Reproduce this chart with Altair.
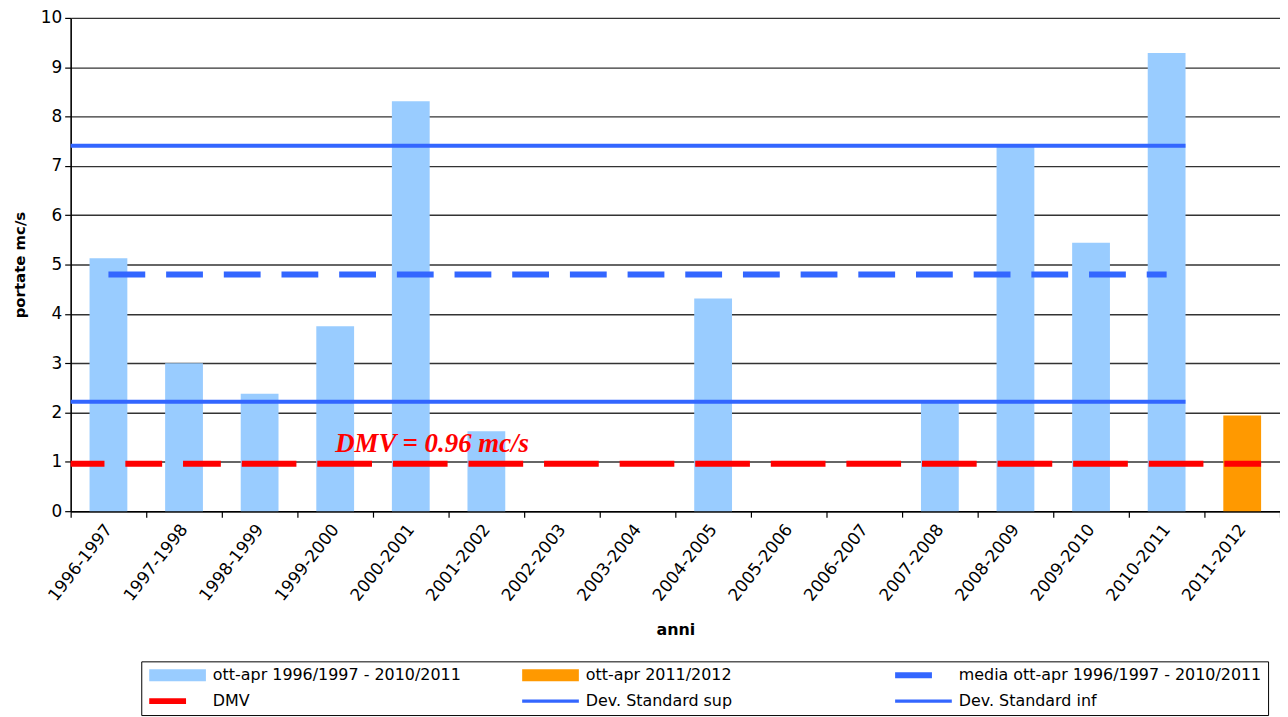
import altair as alt
import pandas as pd

# ---------------- data ----------------
anni = ["1996-1997", "1997-1998", "1998-1999", "1999-2000", "2000-2001", "2001-2002",
        "2002-2003", "2003-2004", "2004-2005", "2005-2006", "2006-2007", "2007-2008",
        "2008-2009", "2009-2010", "2010-2011", "2011-2012"]
portate = [5.13, 3.0, 2.38, 3.75, 8.31, 1.62, 0, 0, 4.31, 0, 0, 2.25, 7.4, 5.44, 9.29, 1.94]
gruppo = ["storico"] * 15 + ["corrente"]

# reference lines: value and extent (in category units along the x axis)
linee_nome = ["media", "sup", "inf", "DMV"]
linee_valore = [4.80, 7.41, 2.22, 0.96]
linee_inizio = [0.5, 0.0, 0.0, 0.0]
linee_fine = [14.5, 14.75, 14.75, 15.75]

legenda_voci = ["ott-apr 1996/1997 - 2010/2011", "ott-apr 2011/2012",
                "media ott-apr 1996/1997 - 2010/2011", "DMV",
                "Dev. Standard sup", "Dev. Standard inf"]
legenda_colori = ["#99CCFF", "#FF9900", "#3366FF", "#FF0000", "#3366FF", "#3366FF"]

testo_dmv = ["DMV = 0.96 mc/s"]
testo_x = [3.5]
testo_y = [1.19]

# ---------------- styling ----------------
W, H = 1216, 496
N = len(anni)
FONT = "DejaVu Sans"
BLUE = "#3366FF"
RED = "#FF0000"

bars_df = pd.DataFrame({"anno": anni, "portata": portate, "gruppo": gruppo})
lines_df = pd.DataFrame({"nome": linee_nome, "v": linee_valore,
                         "x0": linee_inizio, "x1": linee_fine})
text_df = pd.DataFrame({"t": testo_dmv, "tx": testo_x, "ty": testo_y})
leg_df = pd.DataFrame({"voce": legenda_voci})

xq = alt.Scale(domain=[0, N], nice=False, zero=False)


def ycanale(campo):
    return alt.Y(
        campo,
        scale=alt.Scale(domain=[0, 10], nice=False, zero=True),
        axis=alt.Axis(
            values=list(range(0, 11)), title="portate mc/s", titleFont=FONT, titleFontSize=15,
            titleFontWeight="bold", titleColor="black", titleX=-51, titleBaseline="middle",
            labelFont=FONT, labelFontSize=17, labelColor="black", labelPadding=3,
            tickColor="black", tickSize=6, tickWidth=1.2, domainColor="black", domainWidth=1.6,
            grid=True, gridColor="#333333", gridWidth=1.4,
        ),
    )


xaxis = alt.Axis(
    title="anni", titleFont=FONT, titleFontSize=16, titleFontWeight="bold",
    titleColor="black", titleY=119, titleBaseline="middle",
    labelAngle=308, labelAlign="right", labelBaseline="middle", labelPadding=9,
    labelFont=FONT, labelFontSize=17, labelColor="black",
    tickBand="extent", tickColor="black", tickSize=6, tickWidth=1.2,
    domainColor="black", domainWidth=1.6, grid=False,
)

bars = alt.Chart(bars_df).mark_bar(width=alt.RelativeBandSize(0.5)).encode(
    x=alt.X("anno:N", sort=anni,
            scale=alt.Scale(paddingInner=0, paddingOuter=0), axis=xaxis),
    y=ycanale("portata:Q"),
    color=alt.condition("datum.gruppo == 'corrente'", alt.value("#FF9900"), alt.value("#99CCFF")),
)


def linea(nome, colore, spessore, dash=None):
    kw = dict(color=colore, strokeWidth=spessore, strokeCap="butt")
    if dash is not None:
        kw["strokeDash"] = dash
    return alt.Chart(lines_df).transform_filter(alt.datum.nome == nome).mark_rule(**kw).encode(
        x=alt.X("x0:Q", scale=xq, axis=None),
        x2="x1:Q",
        y=ycanale("v:Q"),
    )


dmv_dash = [34, 21, 37, 21, 38, 21] + [55, 21] * 14
l_sup = linea("sup", BLUE, 4)
l_inf = linea("inf", BLUE, 4)
l_media = linea("media", BLUE, 6, [37, 21])
l_dmv = linea("DMV", RED, 6, dmv_dash)

testo = alt.Chart(text_df).mark_text(
    font="Liberation Serif", fontSize=27, fontWeight="bold", fontStyle="italic",
    color=RED, align="left", baseline="alphabetic",
).encode(
    x=alt.X("tx:Q", scale=xq, axis=None),
    y=ycanale("ty:Q"),
    text="t:N",
)

forme = [
    "M-1,-1H8.5V1H-1Z",
    "M-1,-1H8.5V1H-1Z",
    "M-1,-0.5H5.17V0.5H-1Z",
    "M-1,-0.5H5.17V0.5H-1Z",
    "M-1,-0.28H8.5V0.28H-1Z",
    "M-1,-0.28H8.5V0.28H-1Z",
]

leg = alt.Legend(
    title=None, orient="none", legendX=71, legendY=647, columns=3, gridAlign="all",
    direction="horizontal",
    symbolSize=144, symbolStrokeWidth=0, symbolOpacity=1, labelOffset=50,
    labelFont=FONT, labelFontSize=16, labelColor="black", labelLimit=0,
    strokeColor="black", padding=6, rowPadding=10, columnPadding=4,
)

legenda = alt.Chart(leg_df).transform_filter("false").mark_point(filled=True).encode(
    color=alt.Color("voce:N", scale=alt.Scale(domain=legenda_voci, range=legenda_colori), legend=leg),
    shape=alt.Shape("voce:N", scale=alt.Scale(domain=legenda_voci, range=forme), legend=leg),
)

chart = alt.layer(bars, l_inf, l_sup, l_media, l_dmv, testo, legenda).resolve_scale(
    x="independent"
).properties(
    width=W, height=H,
    autosize=alt.AutoSizeParams(type="none"),
    padding={"left": 63, "top": 8, "right": 0, "bottom": 205},
).configure_view(stroke=None)

chart.save("out.html", embed_options={"renderer": "svg", "actions": False})
